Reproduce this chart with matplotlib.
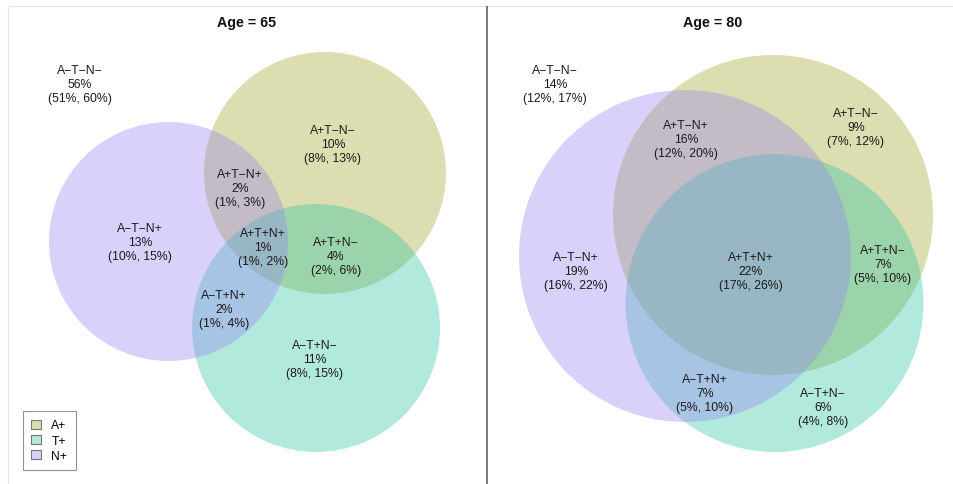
import matplotlib
matplotlib.use("Agg")
import matplotlib.pyplot as plt
from matplotlib.patches import Circle, Patch

plt.rcParams["font.family"] = ["Liberation Sans", "DejaVu Sans"]

# Region names and estimates (point estimate, lower, upper) per age
regions = ["A−T−N−", "A+T−N−", "A+T−N+", "A−T−N+",
           "A+T+N+", "A+T+N−", "A−T+N+", "A−T+N−"]
pct_65 = [56, 10, 2, 13, 1, 4, 2, 11]
lo_65 = [51, 8, 1, 10, 1, 2, 1, 8]
hi_65 = [60, 13, 3, 15, 2, 6, 4, 15]
pct_80 = [14, 9, 16, 19, 22, 7, 7, 6]
lo_80 = [12, 7, 12, 16, 17, 5, 5, 4]
hi_80 = [17, 12, 20, 22, 26, 10, 10, 8]

sets = ["A+", "T+", "N+"]
set_colors = ["#9EA324", "#29C5A3", "#9882F1"]
fill_alpha = 0.36
legend_colors = ["#DCDEB0", "#B2EADE", "#DAD2FA"]

# Circle geometry (centre x, centre y, radius) in canvas units
circles_65 = [(325, 174, 121), (316, 329, 124), (168.5, 242.5, 119.5)]
circles_80 = [(773, 216, 160), (774.5, 304, 149), (685, 257, 166)]

# Label anchor points for each region
label_xy_65 = [(80, 85), (333, 145), (240, 189), (140, 243),
               (263, 248), (336, 257), (224, 310), (315, 360)]
label_xy_80 = [(555, 85), (856, 128), (686, 140), (576, 272),
               (751, 272), (883, 265), (705, 394), (823, 408)]

fig = plt.figure(figsize=(9.54, 4.85), dpi=100)
ax = fig.add_axes([0, 0, 1, 1])
ax.set_xlim(0, 954)
ax.set_ylim(485, 0)
ax.axis("off")

# panel frame lines
ax.plot([8, 954], [7, 7], color="#e4e4e4", lw=0.8, solid_capstyle="butt")
ax.plot([8, 8], [7, 485], color="#e4e4e4", lw=0.8, solid_capstyle="butt")
ax.plot([487, 487], [7, 485], color="#555555", lw=1.1, solid_capstyle="butt")


def draw_panel(circles, label_xy, pct, lo, hi, title, title_x):
    for (cx, cy, r), col in zip(circles, set_colors):
        ax.add_patch(Circle((cx, cy), r, facecolor=col, edgecolor="none",
                            alpha=fill_alpha, zorder=1))
    for name, (x, y), p, l, h in zip(regions, label_xy, pct, lo, hi):
        ax.text(x, y, f"{name}\n{p}%\n({l}%, {h}%)", ha="center",
                va="center", fontsize=8.8, color="#1a1a1a",
                linespacing=1.18, zorder=3)
    ax.text(title_x, 23, title, ha="center", va="center", fontsize=10.3,
            fontweight="bold", color="#111111")


draw_panel(circles_65, label_xy_65, pct_65, lo_65, hi_65, "Age = 65", 247)
draw_panel(circles_80, label_xy_80, pct_80, lo_80, hi_80, "Age = 80", 713)

handles = [Patch(facecolor=c, edgecolor="#777777", lw=0.8, label=s)
           for s, c in zip(sets, legend_colors)]
leg = ax.legend(handles=handles, loc="lower left",
                bbox_to_anchor=(23 / 954, 1 - 471 / 485),
                fontsize=8.7, frameon=True, fancybox=False,
                handlelength=0.75, handleheight=0.75, handletextpad=0.9,
                labelspacing=0.25, borderpad=0.7, borderaxespad=0)
leg.get_frame().set_edgecolor("#777777")
leg.get_frame().set_linewidth(0.8)

fig.savefig("out.png", dpi=100)
